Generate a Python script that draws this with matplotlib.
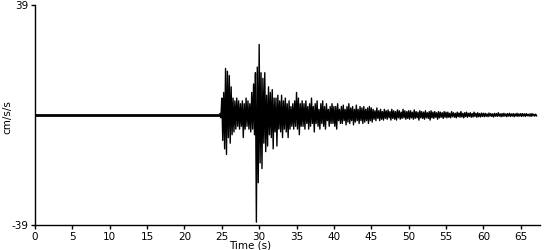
import matplotlib
matplotlib.use("Agg")
import matplotlib.pyplot as plt
import numpy as np

# strong motion part, sampled every 0.25 s (peak up, then peak down)
strong_t0 = 24.75
strong_hi = [0.5, 6, 8, 16.5, 15.5, 14, 10, 6, 5, 6, 5, 4, 5, 4, 6, 5, 4, 8, 11, 15,
             17, 25, 15, 13, 15, 7, 10, 8, 9, 6, 6, 7, 5, 7, 5, 6, 4, 5, 3, 4,
             5, 8, 6, 4, 5, 4]
strong_lo = [-1, -9, -12, -14, -8, -10, -7, -6, -5, -4, -5, -4, -8, -5, -4, -5, -6, -5, -7, -38,
             -24, -17, -19, -10, -13, -11, -7, -8, -12, -6, -11, -5, -6, -8, -5, -6, -8, -5, -4, -5,
             -4, -5, -7, -4, -4, -5]

# coda, also every 0.25 s
coda_t0 = 36.25
coda_hi = [5, 3, 4, 6, 3, 4, 5, 2, 4, 5, 3, 4, 2, 3, 4, 3,
           3, 4, 2, 3, 3.5, 2, 3, 4, 2.5, 3, 2, 3.5, 2, 3, 2.5, 3, 2, 2.5, 3, 2.5,
           2, 1.5, 2.5, 1.5, 2, 1.2, 2, 1.5, 1.8, 1.2, 2, 1.5, 1.2, 1.8, 1.5, 1, 2, 1.5, 1.2, 1.5,
           1.5, 1, 1.8, 1.2, 1, 1.5, 1.2, 1, 1.5, 0.8, 1.2, 1.5, 1, 1.2, 0.8, 1.2, 1, 0.8, 1.2, 1,
           1, 0.6, 1.2, 0.8, 0.6, 1, 0.7, 1.2, 0.6, 0.8, 1, 0.6, 0.8, 0.5, 1, 0.6, 0.8, 0.5, 0.7, 0.6,
           0.6, 0.4, 0.7, 0.5, 0.4, 0.6, 0.5, 0.8, 0.4, 0.5, 0.6, 0.4, 0.5, 0.6, 0.4, 0.5, 0.4, 0.6, 0.4, 0.5,
           0.5, 0.4, 0.5, 0.3, 0.4, 0.5, 0.3, 0.3]
coda_lo = [-3, -5, -4, -3, -6, -3, -4, -5, -3, -4, -5, -2, -4, -3, -3, -4,
           -5, -2, -3, -3, -2, -3.5, -2.5, -3, -2, -3.5, -2.5, -2, -3, -2, -3, -2.5, -2, -3, -2, -2.5,
           -1.5, -2, -1.2, -2, -1.5, -1.8, -1.2, -1.5, -1, -1.8, -1.2, -1.5, -1.8, -1, -1.5, -1.2, -1, -1.5, -1.2, -1.5,
           -1, -1.5, -1.2, -1, -1.8, -1, -1.2, -1.5, -1, -1.2, -1.8, -1, -1.2, -0.8, -1.5, -1, -0.8, -1.2, -0.8, -1,
           -0.8, -1, -0.6, -0.8, -1, -0.6, -0.8, -0.7, -1, -0.6, -0.8, -0.5, -0.8, -0.7, -0.5, -0.8, -0.6, -0.7, -0.5, -0.6,
           -0.5, -0.6, -0.4, -0.5, -0.7, -0.4, -0.5, -0.4, -0.6, -0.5, -0.4, -0.6, -0.4, -0.5, -0.4, -0.6, -0.4, -0.5, -0.4, -0.5,
           -0.4, -0.5, -0.3, -0.4, -0.5, -0.3, -0.4, -0.3]

x_ticks = [0, 5, 10, 15, 20, 25, 30, 35, 40, 45, 50, 55, 60, 65]
y_limit = 39


def zigzag(t0, dt, hi, lo):
    # up peak at t, down peak half a step later
    t = []
    v = []
    for k in range(len(hi)):
        t += [t0 + k * dt, t0 + k * dt + dt / 2]
        v += [hi[k], lo[k]]
    return t, v


t1, v1 = zigzag(strong_t0, 0.25, strong_hi, strong_lo)
t2, v2 = zigzag(coda_t0, 0.25, coda_hi, coda_lo)

plt.rcParams['font.family'] = ['DejaVu Sans']
plt.rcParams['axes.unicode_minus'] = False
fig = plt.figure(figsize=(5.5, 2.5), dpi=100)
ax = fig.add_axes([0.0636, 0.1, 0.9185, 0.88])

ax.plot([0, strong_t0], [0, 0], color='black', lw=2.0, solid_capstyle='butt')
ax.plot(t1 + t2, v1 + v2, color='black', lw=1.0)

ax.set_xlim(0, 67.6)
ax.set_ylim(-y_limit, y_limit)
ax.set_xticks(x_ticks)
ax.set_yticks([-y_limit, y_limit])
ax.tick_params(labelsize=7.5, length=3, width=1, color='black', pad=2)
for s in ['top', 'right']:
    ax.spines[s].set_visible(False)
for s in ['left', 'bottom']:
    ax.spines[s].set_linewidth(1)

ax.set_xlabel('Time (s)', fontsize=7.5)
ax.xaxis.set_label_coords(0.425, -0.07)
ax.set_ylabel('cm/s/s', fontsize=7.5)
ax.yaxis.set_label_coords(-0.045, 0.49)

fig.savefig('out.png', dpi=100)
